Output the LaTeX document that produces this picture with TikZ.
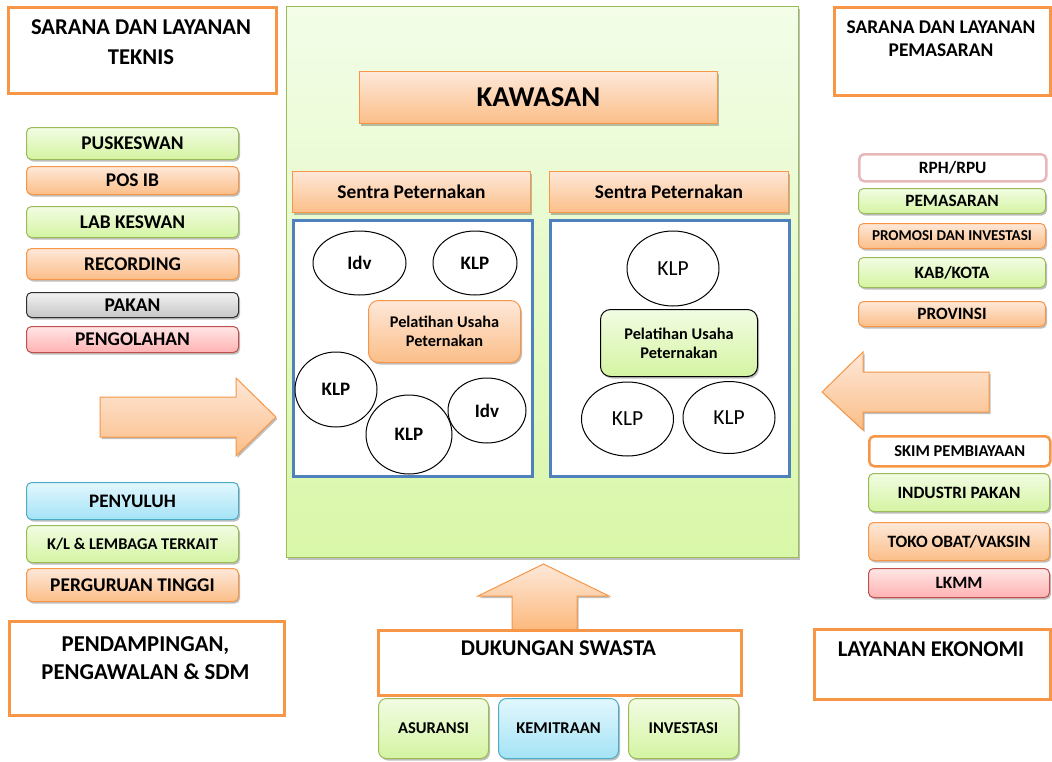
\documentclass[tikz,border=0pt]{standalone}
\usepackage{fontspec}
\setmainfont{Carlito}
\usetikzlibrary{shapes.geometric,shadows}
\definecolor{orB}{HTML}{F79646}
\definecolor{orT}{HTML}{FEE8D9}
\definecolor{orD}{HTML}{FBBE88}
\definecolor{grB}{HTML}{9BBB59}
\definecolor{grT}{HTML}{F2FCE3}
\definecolor{grD}{HTML}{D4F4A2}
\definecolor{gyB}{HTML}{303030}
\definecolor{gyT}{HTML}{F2F2F2}
\definecolor{gyD}{HTML}{C6C6C6}
\definecolor{rdB}{HTML}{C0504D}
\definecolor{rdT}{HTML}{FFE6E6}
\definecolor{rdD}{HTML}{FFB2B2}
\definecolor{blB}{HTML}{4BACC6}
\definecolor{blT}{HTML}{E2F7FD}
\definecolor{blD}{HTML}{A4E3F6}
\definecolor{pnB}{HTML}{4F81BD}
\definecolor{pkB}{HTML}{E6B9B8}
\definecolor{bgT}{HTML}{F3FDE8}
\definecolor{bgD}{HTML}{D9F7A8}
\tikzset{
  shd/.style={drop shadow={shadow xshift=1.5pt,shadow yshift=-2pt,opacity=0.25,fill=black}},
  base/.style={inner sep=0pt,anchor=north west,align=center,font=\bfseries},
  obox/.style={base,shd,draw=orB,line width=1pt,top color=orT,bottom color=orD,rounded corners=5pt},
  gbox/.style={base,shd,draw=grB,line width=1pt,top color=grT,bottom color=grD,rounded corners=5pt},
  ybox/.style={base,shd,draw=gyB,line width=1pt,top color=gyT,bottom color=gyD,rounded corners=5pt},
  rbox/.style={base,shd,draw=rdB,line width=1pt,top color=rdT,bottom color=rdD,rounded corners=5pt},
  bbox/.style={base,shd,draw=blB,line width=1pt,top color=blT,bottom color=blD,rounded corners=5pt},
  wbox/.style={base,draw=#1,line width=2.5pt,fill=white,rounded corners=5pt},
  hbox/.style={base,draw=orB,line width=3pt,fill=white},
  htext/.style={inner sep=0pt,anchor=north,align=center,font=\bfseries\fontsize{#1}{#1}\selectfont},
  fL/.style={font=\bfseries\fontsize{19.4}{21}\selectfont},
  fR/.style={font=\bfseries\fontsize{17.3}{19}\selectfont},
  fS/.style={font=\bfseries\fontsize{16.5}{18}\selectfont},
  sbox/.style={base,shd,draw=orB,line width=1pt,top color=orT,bottom color=orD},
  panel/.style={base,draw=pnB,line width=2.5pt,fill=white},
  ell/.style={ellipse,draw=black,line width=1pt,fill=white,inner sep=0pt},
  arr/.style={shd,draw=orB,line width=1pt,top color=orT,bottom color=#1},
}
\begin{document}
\begin{tikzpicture}[x=1pt,y=-1pt]
\useasboundingbox (0,0) rectangle (1052,761);
\fill[white] (0,0) rectangle (1052,761);

% ---- big central area
\node[base,shd,draw=grB,line width=1pt,top color=bgT,bottom color=bgD,minimum width=512pt,minimum height=551pt] (kaw) at (286,6) {};
\node[sbox,minimum width=358pt,minimum height=52pt,font=\bfseries\fontsize{28.7}{30}\selectfont] (kawt) at (359,71) {KAWASAN};
\node[sbox,minimum width=238pt,minimum height=41pt,font=\bfseries\fontsize{19.4}{21}\selectfont] (s1) at (292,171) {Sentra Peternakan};
\node[sbox,minimum width=239pt,minimum height=41pt,font=\bfseries\fontsize{19.4}{21}\selectfont] (s2) at (549,171) {Sentra Peternakan};
\node[panel,minimum width=239pt,minimum height=256pt] (p1) at (292,219) {};
\node[panel,minimum width=239pt,minimum height=256pt] (p2) at (549,219) {};

% left panel
\node[ell,minimum width=93pt,minimum height=64pt,font=\bfseries\fontsize{19}{21}\selectfont] (e1) at (359.5,263) {Idv};
\node[ell,minimum width=84pt,minimum height=64pt,font=\bfseries\fontsize{19}{21}\selectfont] (e2) at (475,263) {KLP};
\node[obox,rounded corners=10pt,minimum width=152pt,minimum height=62pt,font=\bfseries\fontsize{16.3}{19}\selectfont] (pl1) at (368,300) {Pelatihan Usaha\\Peternakan};
\node[ell,minimum width=82pt,minimum height=75pt,font=\bfseries\fontsize{19}{21}\selectfont] (e3) at (336,389.5) {KLP};
\node[ell,minimum width=78pt,minimum height=65pt,font=\bfseries\fontsize{19}{21}\selectfont] (e5) at (487,410.5) {Idv};
\node[ell,minimum width=86pt,minimum height=79pt,font=\bfseries\fontsize{19}{21}\selectfont] (e4) at (409,434.5) {KLP};

% right panel
\node[ell,minimum width=92pt,minimum height=75pt,font=\fontsize{21.5}{23}\selectfont] (f1) at (673,268.5) {KLP};
\node[gbox,draw=black,rounded corners=10pt,minimum width=157pt,minimum height=67pt,font=\bfseries\fontsize{16.3}{19}\selectfont] (pl2) at (600,309) {Pelatihan Usaha\\Peternakan};
\node[ell,minimum width=92pt,minimum height=74pt,font=\fontsize{21.5}{23}\selectfont] (f2) at (627.5,419) {KLP};
\node[ell,minimum width=92pt,minimum height=72pt,font=\fontsize{21.5}{23}\selectfont] (f3) at (729,417.5) {KLP};

% ---- left column
\node[hbox,minimum width=268pt,minimum height=86pt] (h1) at (7,6) {};
\node[htext=22.6] (h1t) at (141,19) {SARANA DAN LAYANAN\\[7.4pt]TEKNIS};
\node[gbox,fL,minimum width=212pt,minimum height=32pt] (l1) at (26,127) {PUSKESWAN};
\node[obox,fL,minimum width=212pt,minimum height=28pt] (l2) at (26,166) {POS IB};
\node[gbox,fL,minimum width=212pt,minimum height=31pt] (l3) at (26,206) {LAB KESWAN};
\node[obox,fL,minimum width=212pt,minimum height=31pt] (l4) at (26,248) {RECORDING};
\node[ybox,fL,minimum width=212pt,minimum height=25pt] (l5) at (26,292) {PAKAN};
\node[rbox,fL,minimum width=212pt,minimum height=26pt] (l6) at (26,326) {PENGOLAHAN};

\coordinate (la) at (276,417);
\draw[arr=orD] (100,397) -- (236,397) -- (236,378) -- (la) -- (236,456) -- (236,437) -- (100,437) -- cycle;

\node[bbox,font=\bfseries\fontsize{19.1}{21}\selectfont,minimum width=212pt,minimum height=37pt] (l7) at (26,482) {PENYULUH};
\node[gbox,font=\bfseries\fontsize{16.4}{18}\selectfont,minimum width=212pt,minimum height=37pt] (l8) at (26,525) {K/L \& LEMBAGA TERKAIT};
\node[obox,fL,minimum width=212pt,minimum height=33pt] (l9) at (26,568) {PERGURUAN TINGGI};
\node[hbox,minimum width=275pt,minimum height=94pt] (h3) at (8,620) {};
\node[htext=22.7] (h3t) at (145.5,636) {PENDAMPINGAN,\\[5.3pt]PENGAWALAN \& SDM};

% ---- right column
\node[hbox,minimum width=216pt,minimum height=88pt] (h2) at (833,6) {};
\node[htext=19.4] (h2t) at (941,21) {SARANA DAN LAYANAN\\[3.6pt]PEMASARAN};
\node[wbox=pkB,fR,minimum width=187pt,minimum height=27pt] (r1) at (858,153) {RPH/RPU};
\node[gbox,fR,minimum width=187pt,minimum height=25pt] (r2) at (858,188) {PEMASARAN};
\node[obox,font=\bfseries\fontsize{15.1}{17}\selectfont,minimum width=187pt,minimum height=25pt] (r3) at (858,223) {PROMOSI DAN INVESTASI};
\node[gbox,fR,minimum width=187pt,minimum height=30pt] (r4) at (858,257) {KAB/KOTA};
\node[obox,fR,minimum width=187pt,minimum height=25pt] (r5) at (858,301) {PROVINSI};

\coordinate (ra) at (822,392);
\draw[arr=orD] (989,372) -- (863,372) -- (863,352) -- (ra) -- (863,430) -- (863,412) -- (989,412) -- cycle;

\node[wbox=orB,fS,minimum width=181pt,minimum height=30pt] (r6) at (868,435) {SKIM PEMBIAYAAN};
\node[gbox,fR,minimum width=181pt,minimum height=38pt] (r7) at (868,473) {INDUSTRI PAKAN};
\node[obox,fR,minimum width=181pt,minimum height=38pt] (r8) at (868,522) {TOKO OBAT/VAKSIN};
\node[rbox,fR,minimum width=181pt,minimum height=29pt] (r9) at (868,568) {LKMM};
\node[hbox,minimum width=236pt,minimum height=70pt] (h4) at (813,628) {};
\node[htext=22.5] (h4t) at (931,642) {LAYANAN EKONOMI};

% ---- bottom
\coordinate (ua) at (543.5,564);
\draw[arr=orD!90!orange] (512,632) -- (512,596) -- (478,596) -- (ua) -- (609,596) -- (577,596) -- (577,632) -- cycle;
\node[hbox,minimum width=363pt,minimum height=65pt] (h5) at (377,629) {};
\node[htext=22.5] (h5t) at (558.5,641) {DUKUNGAN SWASTA};
\node[gbox,fS,rounded corners=8pt,minimum width=110pt,minimum height=60pt] (b1) at (378,698) {ASURANSI};
\node[bbox,fS,rounded corners=8pt,minimum width=120pt,minimum height=60pt] (b2) at (498,698) {KEMITRAAN};
\node[gbox,fS,rounded corners=8pt,minimum width=110pt,minimum height=60pt] (b3) at (628,698) {INVESTASI};
\end{tikzpicture}
\end{document}
